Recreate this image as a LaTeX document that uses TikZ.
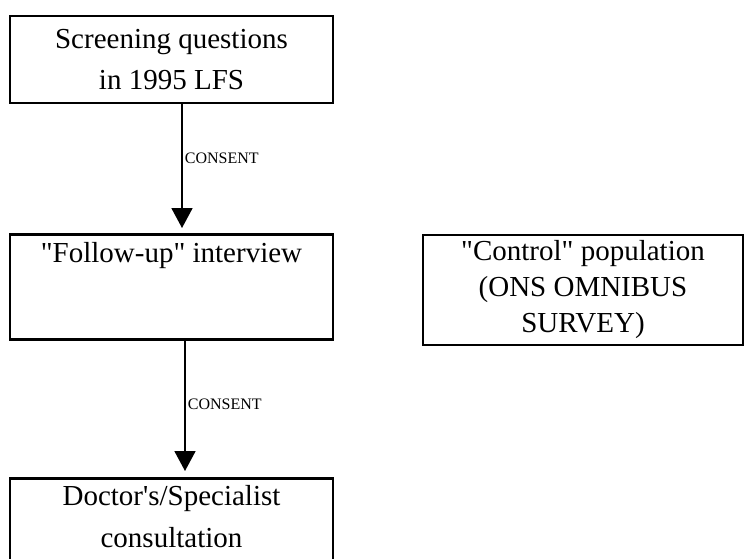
\documentclass[tikz,border=0pt]{standalone}
\usepackage{fontspec}
\setmainfont{Liberation Serif}
\usetikzlibrary{arrows.meta}

\begin{document}
\begin{tikzpicture}[x=1pt,y=-1pt,
	box/.style={draw, line width=2.5pt, inner sep=0pt, align=center, font=\fontsize{29}{41}\selectfont},
	flow/.style={line width=1.8pt, -{Triangle[width=21pt,length=20pt]}},
	lbl/.style={right, inner xsep=2pt, font=\fontsize{16}{18}\selectfont}]
		\clip (0,0) rectangle (744,558);
		\node [box, minimum width=323pt, minimum height=87pt] (screen) at (171.5,59.5)
		{Screening questions\\in 1995 LFS};
		\node [box, minimum width=323pt, anchor=north, text height=28pt, text depth=77pt] (followup) at (171.5,233)
		{\textquotedbl Follow-up\textquotedbl{} interview};
		\node [box, minimum width=320pt, minimum height=110pt, font=\fontsize{29}{36}\selectfont] (control) at (583,290)
		{\textquotedbl Control\textquotedbl{} population\\(ONS OMNIBUS\\SURVEY)};
		\node [box, minimum width=323pt, minimum height=119pt, anchor=north, font=\fontsize{29}{42}\selectfont] (doctor) at (171.5,477)
		{Doctor\textquotesingle s/Specialist\\consultation\\\mbox{}};
	\draw [flow, shorten >=5pt] ([xshift=10.5pt]screen.south) -- node [lbl, pos=0.42] (consentA) {CONSENT} ([xshift=10.5pt]followup.north);
	\draw [flow, shorten >=6pt] ([xshift=13.5pt]followup.south) -- node [lbl, pos=0.47] (consentB) {CONSENT} ([xshift=13.5pt]doctor.north);
\end{tikzpicture}
\end{document}
